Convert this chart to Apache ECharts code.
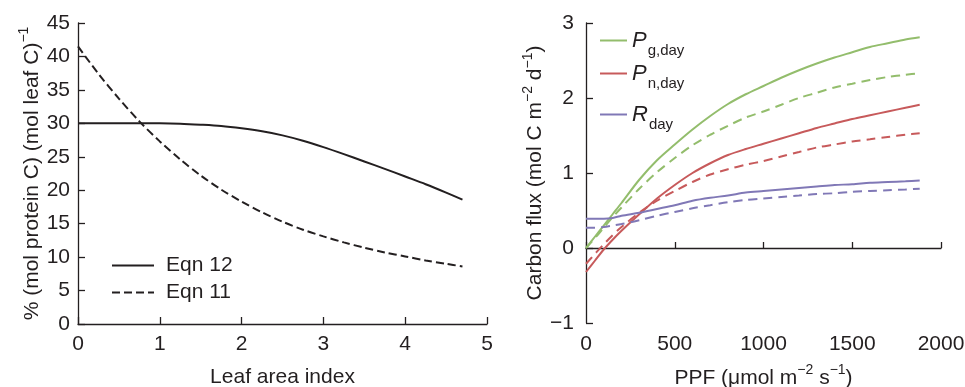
<!DOCTYPE html>
<html>
<head>
<meta charset="utf-8">
<script src="https://cdn.jsdelivr.net/npm/echarts@6/dist/echarts.min.js"></script>
<style>
  html, body { margin: 0; padding: 0; background: #fff; }
  #chart { width: 965px; height: 387px; }
</style>
</head>
<body>
<div id="chart"></div>
<script>
// left panel: leaf protein vs leaf area index
const laiX = [0, 0.25, 0.5, 0.75, 1, 1.25, 1.5, 1.75, 2, 2.25, 2.5, 2.75, 3, 3.25, 3.5, 3.75, 4, 4.25, 4.5, 4.7]
const eqn12 = [30, 30, 30, 30, 30, 29.95, 29.8, 29.6, 29.25, 28.8, 28.2, 27.4, 26.45, 25.4, 24.3, 23.2, 22.05, 20.9, 19.65, 18.6]
const eqn11 = [41.5, 37.4, 33.7, 30.3, 27.3, 24.6, 22.2, 20.1, 18.3, 16.7, 15.3, 14.1, 13.1, 12.2, 11.4, 10.7, 10.1, 9.5, 9.0, 8.6]

// right panel: carbon flux vs PPF (solid / dashed)
const ppfX = [0, 50, 100, 150, 200, 300, 400, 500, 600, 700, 800, 900, 1000, 1100, 1200, 1300, 1400, 1500, 1600, 1700, 1800, 1880]
const pgSolid = [0, 0.15, 0.30, 0.45, 0.60, 0.91, 1.17, 1.38, 1.58, 1.76, 1.92, 2.05, 2.16, 2.27, 2.37, 2.46, 2.54, 2.61, 2.68, 2.73, 2.78, 2.81]
const pgDash  = [0, 0.13, 0.27, 0.41, 0.54, 0.79, 1.01, 1.20, 1.37, 1.51, 1.63, 1.74, 1.82, 1.91, 2.00, 2.07, 2.14, 2.19, 2.24, 2.28, 2.31, 2.33]
const pnSolid = [-0.32, -0.17, -0.02, 0.11, 0.23, 0.45, 0.66, 0.84, 1.00, 1.13, 1.24, 1.32, 1.39, 1.46, 1.53, 1.60, 1.66, 1.72, 1.77, 1.82, 1.87, 1.91]
const pnDash  = [-0.21, -0.08, 0.05, 0.17, 0.28, 0.47, 0.63, 0.76, 0.88, 0.98, 1.05, 1.11, 1.16, 1.22, 1.28, 1.34, 1.38, 1.42, 1.45, 1.48, 1.51, 1.53]
const rSolid  = [0.39, 0.39, 0.39, 0.40, 0.43, 0.47, 0.52, 0.57, 0.63, 0.67, 0.70, 0.74, 0.76, 0.78, 0.80, 0.82, 0.84, 0.85, 0.87, 0.88, 0.89, 0.90]
const rDash   = [0.27, 0.27, 0.28, 0.30, 0.32, 0.37, 0.43, 0.48, 0.53, 0.57, 0.61, 0.64, 0.66, 0.68, 0.70, 0.72, 0.73, 0.75, 0.76, 0.77, 0.78, 0.79]

const FONT = "'Liberation Sans', Arial, Helvetica, sans-serif"
const INK = '#231f20'
const GREEN = '#93bd6c'
const RED = '#c75a5b'
const PURPLE = '#8078b6'

const pair = (xs, ys) => xs.map((x, i) => [x, ys[i]])
const labelStyle = { color: INK, fontSize: 21, fontFamily: FONT }
const nameRich = {
  t: { color: INK, fontSize: 21, fontFamily: FONT },
  sup: { color: INK, fontSize: 14, fontFamily: FONT, padding: [0, 0, 16, 0] }
}
const axisLine = { show: true, onZero: false, lineStyle: { color: INK, width: 1.3 } }
const axisTick = { show: true, inside: true, length: 7, lineStyle: { color: INK, width: 1.3 } }
const minus = v => (v < 0 ? '\u2212' + (-v) : String(v))

const line = (name, data, color, dashed, xi, yi) => ({
  name, type: 'line', data, xAxisIndex: xi, yAxisIndex: yi,
  symbol: 'none', smooth: 0.3,
  lineStyle: { color, width: 2, type: dashed ? dashed : 'solid' },
  itemStyle: { color }
})

const legendOne = (name, top, left, fmt) => ({
  data: [name], top, left, padding: 0, orient: 'vertical',
  icon: 'inherit',
  itemWidth: left < 300 ? 42 : 27, itemHeight: 14,
  itemStyle: { opacity: 0 },
  selectedMode: false,
  formatter: fmt,
  textStyle: {
    color: INK, fontFamily: FONT,
    rich: {
      t: { color: INK, fontSize: 21, fontFamily: FONT, padding: [0, 0, 0, 7] },
      p: { color: INK, fontSize: 22, fontFamily: FONT, fontStyle: 'italic' },
      s: { color: INK, fontSize: 15, fontFamily: FONT, padding: [20, 0, 0, 1] }
    }
  }
})

const chart = echarts.init(document.getElementById('chart'), null, { renderer: 'canvas' })
chart.setOption({
  animation: false,
  backgroundColor: '#fff',
  textStyle: { fontFamily: FONT },
  grid: [
    { left: 78, right: 478, top: 23, bottom: 63, outerBoundsMode: 'none', containLabel: false },
    { left: 586, right: 24, top: 23, bottom: 64, outerBoundsMode: 'none', containLabel: false }
  ],
  legend: [
    legendOne('Eqn 12', 255, 111, n => '{t|' + n + '}'),
    legendOne('Eqn 11', 282, 111, n => '{t|' + n + '}'),
    legendOne('Pg', 29.5, 599, () => '{p|P}{s|g,day}'),
    legendOne('Pn', 62.5, 599, () => '{p|P}{s|n,day}'),
    legendOne('R', 103.5, 599, () => '{p|R}{s|day}')
  ],
  xAxis: [
    {
      gridIndex: 0, type: 'value', min: 0, max: 5, interval: 1,
      axisLine, axisTick, splitLine: { show: false },
      axisLabel: { ...labelStyle, margin: 10 },
      name: 'Leaf area index', nameLocation: 'middle', nameGap: 43,
      nameTextStyle: { color: INK, fontSize: 21, fontFamily: FONT }
    },
    {
      gridIndex: 1, type: 'value', min: 0, max: 2000, interval: 500, position: 'bottom',
      axisLine: { ...axisLine, onZero: true }, axisTick: { ...axisTick, length: 6 },
      axisLabel: { show: false }, splitLine: { show: false }
    },
    {
      gridIndex: 1, type: 'value', min: 0, max: 2000, interval: 500, position: 'bottom',
      axisLine: { show: false, onZero: false }, axisTick: { show: false }, splitLine: { show: false },
      axisLabel: { ...labelStyle, margin: 11, formatter: v => String(v) },
      name: '{t|PPF (\u03bcmol m}{sup|\u22122}{t| s}{sup|\u22121}{t|)}',
      nameLocation: 'middle', nameGap: 40,
      nameTextStyle: { rich: nameRich }
    }
  ],
  yAxis: [
    {
      gridIndex: 0, type: 'value', min: 0, max: 45, interval: 5,
      axisLine, axisTick, splitLine: { show: false },
      axisLabel: { ...labelStyle, margin: 8 },
      name: '{t|% (mol protein C) (mol leaf C)}{sup|\u22121}',
      nameLocation: 'middle', nameGap: 31,
      nameTextStyle: { rich: nameRich }
    },
    {
      gridIndex: 1, type: 'value', min: -1, max: 3, interval: 1,
      axisLine, axisTick, splitLine: { show: false },
      axisLabel: { ...labelStyle, margin: 12, formatter: minus },
      name: '{t|Carbon flux (mol C m}{sup|\u22122}{t| d}{sup|\u22121}{t|)}',
      nameLocation: 'middle', nameGap: 26,
      nameTextStyle: { rich: nameRich }
    }
  ],
  series: [
    line('Eqn 12', pair(laiX, eqn12), INK, null, 0, 0),
    line('Eqn 11', pair(laiX, eqn11), INK, [8, 4], 0, 0),
    line('Pg', pair(ppfX, pgSolid), GREEN, null, 1, 1),
    line('Pg dashed', pair(ppfX, pgDash), GREEN, [9, 6], 1, 1),
    line('Pn', pair(ppfX, pnSolid), RED, null, 1, 1),
    line('Pn dashed', pair(ppfX, pnDash), RED, [9, 6], 1, 1),
    line('R', pair(ppfX, rSolid), PURPLE, null, 1, 1),
    line('R dashed', pair(ppfX, rDash), PURPLE, [9, 6], 1, 1)
  ]
})
</script>
</body>
</html>
